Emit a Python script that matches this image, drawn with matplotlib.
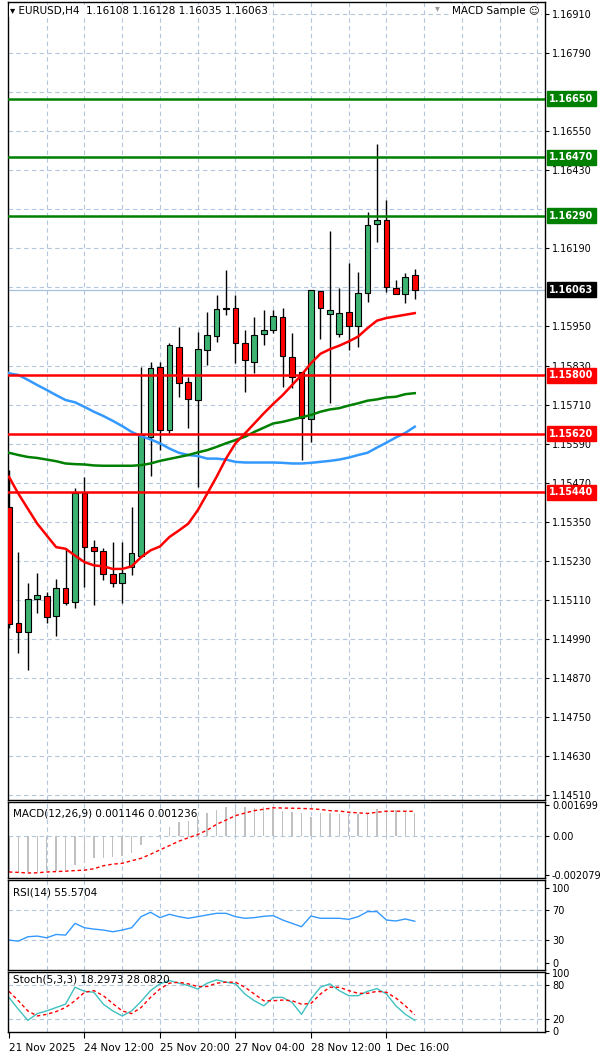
import matplotlib
matplotlib.use("Agg")
import matplotlib.pyplot as plt
import numpy as np

plt.rcParams["font.family"] = ["DejaVu Sans"]

# ---- candle data (EURUSD H4) ----
opens = [1.15395, 1.15040, 1.15010, 1.15114, 1.15121, 1.15059, 1.15145, 1.15102, 1.15438, 1.15271,
         1.15259, 1.15188, 1.15161, 1.15210, 1.15244, 1.15610, 1.15826, 1.15632, 1.15887, 1.15780,
         1.15724, 1.15878, 1.15921, 1.16007, 1.16007, 1.15900, 1.15841, 1.15927, 1.15940, 1.15980,
         1.15857, 1.15810, 1.15666, 1.16060, 1.15989, 1.15927, 1.15995, 1.15952, 1.16054, 1.16266,
         1.16276, 1.16069, 1.16051, 1.16108]
highs = [1.15509, 1.15256, 1.15161, 1.15191, 1.15133, 1.15173, 1.15268, 1.15453, 1.15487, 1.15293,
         1.15268, 1.15287, 1.15287, 1.15395, 1.15826, 1.15841, 1.15841, 1.15900, 1.15949, 1.15795,
         1.15934, 1.15995, 1.16048, 1.16122, 1.16048, 1.15940, 1.15980, 1.16001, 1.16001, 1.16008,
         1.15931, 1.15810, 1.16063, 1.16060, 1.16242, 1.16069, 1.16146, 1.16118, 1.16303, 1.16510,
         1.16340, 1.16094, 1.16115, 1.16128]
lows = [1.15025, 1.14948, 1.14893, 1.15071, 1.15040, 1.15000, 1.15093, 1.15084, 1.15148, 1.15093,
        1.15170, 1.15148, 1.15099, 1.15185, 1.15241, 1.15490, 1.15570, 1.15623, 1.15733, 1.15638,
        1.15456, 1.15832, 1.15903, 1.15986, 1.15838, 1.15749, 1.15807, 1.15894, 1.15931, 1.15764,
        1.15761, 1.15539, 1.15595, 1.15912, 1.15715, 1.15918, 1.15878, 1.15887, 1.16026, 1.16211,
        1.16057, 1.16051, 1.16023, 1.16035]
closes = [1.15037, 1.15010, 1.15114, 1.15124, 1.15056, 1.15145, 1.15099, 1.15438, 1.15271, 1.15259,
          1.15188, 1.15161, 1.15191, 1.15253, 1.15616, 1.15823, 1.15632, 1.15894, 1.15777, 1.15727,
          1.15881, 1.15924, 1.16004, 1.16004, 1.15900, 1.15847, 1.15924, 1.15940, 1.15983, 1.15860,
          1.15795, 1.15669, 1.16063, 1.16007, 1.16001, 1.15992, 1.15952, 1.16054, 1.16263, 1.16276,
          1.16072, 1.16051, 1.16103, 1.16063]

ma_red = [1.15488, 1.15436, 1.15390, 1.15344, 1.15308, 1.15272, 1.15267, 1.15246, 1.15226, 1.15216,
          1.15213, 1.15205, 1.15205, 1.15213, 1.15241, 1.15262, 1.15274, 1.15303, 1.15323, 1.15344,
          1.15385, 1.15436, 1.15488, 1.15544, 1.15591, 1.15621, 1.15652, 1.15683, 1.15712, 1.15739,
          1.15770, 1.15801, 1.15837, 1.15866, 1.15880, 1.15891, 1.15904, 1.15919, 1.15945, 1.15968,
          1.15976, 1.15981, 1.15986, 1.15991]
ma_green = [1.15562, 1.15555, 1.15549, 1.15546, 1.15541, 1.15536, 1.15529, 1.15527, 1.15526, 1.15523,
            1.15522, 1.15522, 1.15522, 1.15522, 1.15524, 1.15529, 1.15537, 1.15543, 1.15549, 1.15555,
            1.15563, 1.15570, 1.15580, 1.15591, 1.15601, 1.15611, 1.15626, 1.15639, 1.15652, 1.15657,
            1.15664, 1.15671, 1.15678, 1.15688, 1.15695, 1.15699, 1.15707, 1.15714, 1.15722, 1.15726,
            1.15732, 1.15734, 1.15742, 1.15745]
ma_blue = [1.15806, 1.15801, 1.15786, 1.15770, 1.15755, 1.15739, 1.15724, 1.15717, 1.15703, 1.15688,
           1.15675, 1.15660, 1.15644, 1.15626, 1.15613, 1.15603, 1.15591, 1.15575, 1.15562, 1.15555,
           1.15552, 1.15544, 1.15544, 1.15541, 1.15534, 1.15532, 1.15532, 1.15532, 1.15532, 1.15531,
           1.15529, 1.15529, 1.15531, 1.15534, 1.15537, 1.15541, 1.15547, 1.15555, 1.15562, 1.15578,
           1.15593, 1.15609, 1.15623, 1.15642]

resist_levels = [1.16650, 1.16470, 1.16290]
support_levels = [1.15800, 1.15620, 1.15440]
last_price = 1.16063
price_ticks = [1.16910, 1.16790, 1.16550, 1.16430, 1.16190, 1.15950, 1.15830,
               1.15710, 1.15590, 1.15470, 1.15350, 1.15230, 1.15110, 1.14990, 1.14870, 1.14750,
               1.14630, 1.14510]
grid_prices = [1.16910, 1.16790, 1.16670, 1.16550, 1.16430, 1.16310, 1.16190, 1.16070, 1.15950,
               1.15830, 1.15710, 1.15590, 1.15470, 1.15350, 1.15230, 1.15110, 1.14990, 1.14870,
               1.14750, 1.14630, 1.14510]

macd_hist = [-0.00178, -0.00181, -0.00178, -0.00178, -0.00174, -0.00174, -0.00169, -0.00141, -0.00127, -0.00110,
             -0.00107, -0.00102, -0.00097, -0.00085, -0.00046, -0.00005, 0.00005, 0.00047, 0.00068, 0.00076,
             0.00102, 0.00113, 0.00132, 0.00147, 0.00147, 0.00144, 0.00141, 0.00144, 0.00136, 0.00127,
             0.00119, 0.00113, 0.00097, 0.00113, 0.00113, 0.00110, 0.00110, 0.00110, 0.00113, 0.00136,
             0.00132, 0.00130, 0.00127, 0.001146]
macd_signal = [-0.00178, -0.00180, -0.00183, -0.00182, -0.00178, -0.00176, -0.00174, -0.00171, -0.00169, -0.00162,
               -0.00147, -0.00139, -0.00135, -0.00122, -0.00110, -0.00090, -0.00068, -0.00047, -0.00025, -0.00008,
               0.00008, 0.00030, 0.00059, 0.00080, 0.00102, 0.00115, 0.00127, 0.00134, 0.00141, 0.00140,
               0.00139, 0.00138, 0.00136, 0.00133, 0.00127, 0.00125, 0.00119, 0.00116, 0.00113, 0.00119,
               0.00124, 0.00124, 0.00124, 0.001236]
rsi = [30.2, 28.8, 34.7, 35.6, 33.3, 37.8, 36.9, 52.7, 46.8, 45.0, 43.7, 41.4, 43.7, 46.8, 61.7,
       67.6, 60.4, 64.9, 61.7, 59.5, 61.7, 64.0, 66.2, 66.2, 61.7, 59.5, 60.4, 62.2, 63.1, 57.2,
       52.7, 48.2, 62.6, 59.5, 59.5, 59.5, 58.1, 61.7, 68.5, 68.5, 57.2, 55.9, 58.6, 55.57]
stoch_k = [58.2, 37.6, 18.2, 30.0, 34.7, 40.6, 46.5, 75.9, 68.8, 67.1, 46.5, 34.7, 25.9, 34.7, 51.2,
           70.0, 81.8, 87.6, 82.9, 78.8, 72.9, 82.9, 88.8, 84.7, 81.8, 64.1, 52.4, 43.5, 58.2, 58.2,
           49.4, 28.8, 55.3, 75.9, 81.8, 70.0, 61.2, 61.2, 68.8, 73.5, 64.1, 43.5, 28.8, 18.30]
stoch_d = [68.8, 52.4, 34.7, 25.9, 28.8, 33.5, 40.6, 52.4, 67.1, 70.0, 61.2, 47.6, 34.7, 30.0, 40.6,
           58.2, 72.9, 82.9, 84.7, 81.8, 77.1, 77.1, 82.9, 84.7, 84.7, 75.9, 64.1, 52.4, 52.4, 53.5,
           52.4, 46.5, 47.6, 64.1, 75.9, 75.9, 70.0, 65.3, 65.3, 68.8, 67.1, 57.1, 43.5, 28.08]

date_ticks = [0, 8, 16, 24, 32, 40]
date_labels = ["21 Nov 2025", "24 Nov 12:00", "25 Nov 20:00", "27 Nov 04:00", "28 Nov 12:00", "1 Dec 16:00"]

GRID = "#b4c6dc"
BULL = "#3cb371"
W, H = 600, 1055


def panel(top, bottom):
    return [8 / W, (H - bottom) / H, (545 - 8) / W, (bottom - top) / H]


fig = plt.figure(figsize=(W / 100, H / 100), dpi=100)
ax = fig.add_axes(panel(2, 800))
ax_macd = fig.add_axes(panel(802, 878))
ax_rsi = fig.add_axes(panel(880, 970))
ax_st = fig.add_axes(panel(972, 1032))

x = np.arange(len(closes))
xlim = (-0.1, 56.8)
vgrid = np.arange(4, 57, 4)

for a in (ax, ax_macd, ax_rsi, ax_st):
    a.set_xlim(*xlim)
    a.yaxis.tick_right()
    a.tick_params(axis="y", labelsize=7, length=3, pad=2)
    a.tick_params(axis="x", length=0, labelbottom=False)
    a.set_xticks([])
    for v in vgrid:
        a.axvline(v, color=GRID, lw=0.8, ls=(0, (4, 3)), zorder=0)
    for s in a.spines.values():
        s.set_linewidth(1.0)

# ---- main price panel ----
ax.set_ylim(1.14495, 1.16947)
for p in grid_prices:
    ax.axhline(p, color=GRID, lw=0.8, ls=(0, (4, 3)), zorder=0)
ax.set_yticks(price_ticks)
ax.set_yticklabels([f"{p:.5f}" for p in price_ticks])
ax.axhline(last_price, color="#a8c0e0", lw=0.9, zorder=1)

for i in x:
    o, h, l, c = opens[i], highs[i], lows[i], closes[i]
    col = BULL if c >= o else "#ff0000"
    ax.vlines(i, l, h, color="black", lw=1.0, zorder=3)
    lo, hi = min(o, c), max(o, c)
    ax.bar(i, max(hi - lo, 0.00003), bottom=lo, width=0.6, color=col,
           edgecolor="black", linewidth=0.8, zorder=4)

ax.plot(x, ma_blue, color="#3399ff", lw=1.8, zorder=5)
ax.plot([xlim[0], 0], [ma_blue[0] + 0.00002, ma_blue[0]], color="#3399ff", lw=1.8, zorder=5)
ax.plot(x, ma_green, color="#008000", lw=1.8, zorder=5)
ax.plot(x, ma_red, color="#ff0000", lw=1.8, zorder=5)

for lv in resist_levels:
    ax.axhline(lv, color="#008000", lw=1.8, zorder=6)
for lv in support_levels:
    ax.axhline(lv, color="#ff0000", lw=1.8, zorder=6)

boxes = [(lv, "#008000") for lv in resist_levels] + [(lv, "#ff0000") for lv in support_levels] \
    + [(last_price, "black")]
for lv, col in boxes:
    ax.annotate(f"{lv:.5f}", xy=(1.0, lv), xycoords=("axes fraction", "data"),
                xytext=(3, 0), textcoords="offset points", ha="left", va="center",
                fontsize=7, color="white", fontweight="bold", annotation_clip=False,
                bbox=dict(boxstyle="square,pad=0.25", fc=col, ec=col), zorder=10)

ax.text(0.004, 0.995, "\u25BE EURUSD,H4  1.16108 1.16128 1.16035 1.16063",
        transform=ax.transAxes, ha="left", va="top", fontsize=7.5, color="black",
        bbox=dict(fc="white", ec="none", pad=1))
ax.text(0.99, 0.995, "MACD Sample \u263A", transform=ax.transAxes, ha="right", va="top",
        fontsize=7.5, color="black", bbox=dict(fc="white", ec="none", pad=1))
ax.text(0.80, 0.998, "\u25BE", transform=ax.transAxes, ha="center", va="top",
        fontsize=7, color="#999999")

# ---- MACD ----
ax_macd.set_ylim(-0.002079, 0.001699)
ax_macd.axhline(0, color=GRID, lw=0.8, ls=(0, (4, 3)), zorder=0)
ax_macd.bar(x, macd_hist, width=0.15, color="#c0c0c0", zorder=2)
ax_macd.plot(x, macd_signal, color="#ff0000", lw=1.0, ls=(0, (2.5, 2)), zorder=3)
ax_macd.set_yticks([0.00155, 0.0, -0.00195])
ax_macd.set_yticklabels(["0.001699", "0.00", "-0.002079"])
ax_macd.text(0.01, 0.92, "MACD(12,26,9) 0.001146 0.001236", transform=ax_macd.transAxes,
             ha="left", va="top", fontsize=7.5)

# ---- RSI ----
ax_rsi.set_ylim(-10, 111)
for lv in (70, 30):
    ax_rsi.axhline(lv, color=GRID, lw=0.8, ls=(0, (4, 3)), zorder=0)
ax_rsi.plot(x, rsi, color="#3399ff", lw=1.0)
ax_rsi.set_yticks([100, 70, 30, 0])
ax_rsi.text(0.01, 0.92, "RSI(14) 55.5704", transform=ax_rsi.transAxes,
            ha="left", va="top", fontsize=7.5)

# ---- Stochastic ----
ax_st.set_ylim(-2, 102.4)
for lv in (80, 20):
    ax_st.axhline(lv, color=GRID, lw=0.8, ls=(0, (4, 3)), zorder=0)
ax_st.plot(x, stoch_k, color="#40c0c0", lw=1.0)
ax_st.plot(x, stoch_d, color="#ff0000", lw=1.0, ls=(0, (2.5, 2)))
ax_st.set_yticks([100, 80, 20, 0])
ax_st.text(0.01, 0.95, "Stoch(5,3,3) 18.2973 28.0820", transform=ax_st.transAxes,
           ha="left", va="top", fontsize=7.5)
ax_st.set_xticks(date_ticks)
ax_st.set_xticklabels(date_labels, ha="left")
ax_st.tick_params(axis="x", labelbottom=True, labelsize=7.5, length=4, pad=4)

fig.savefig("out.png", dpi=100)
